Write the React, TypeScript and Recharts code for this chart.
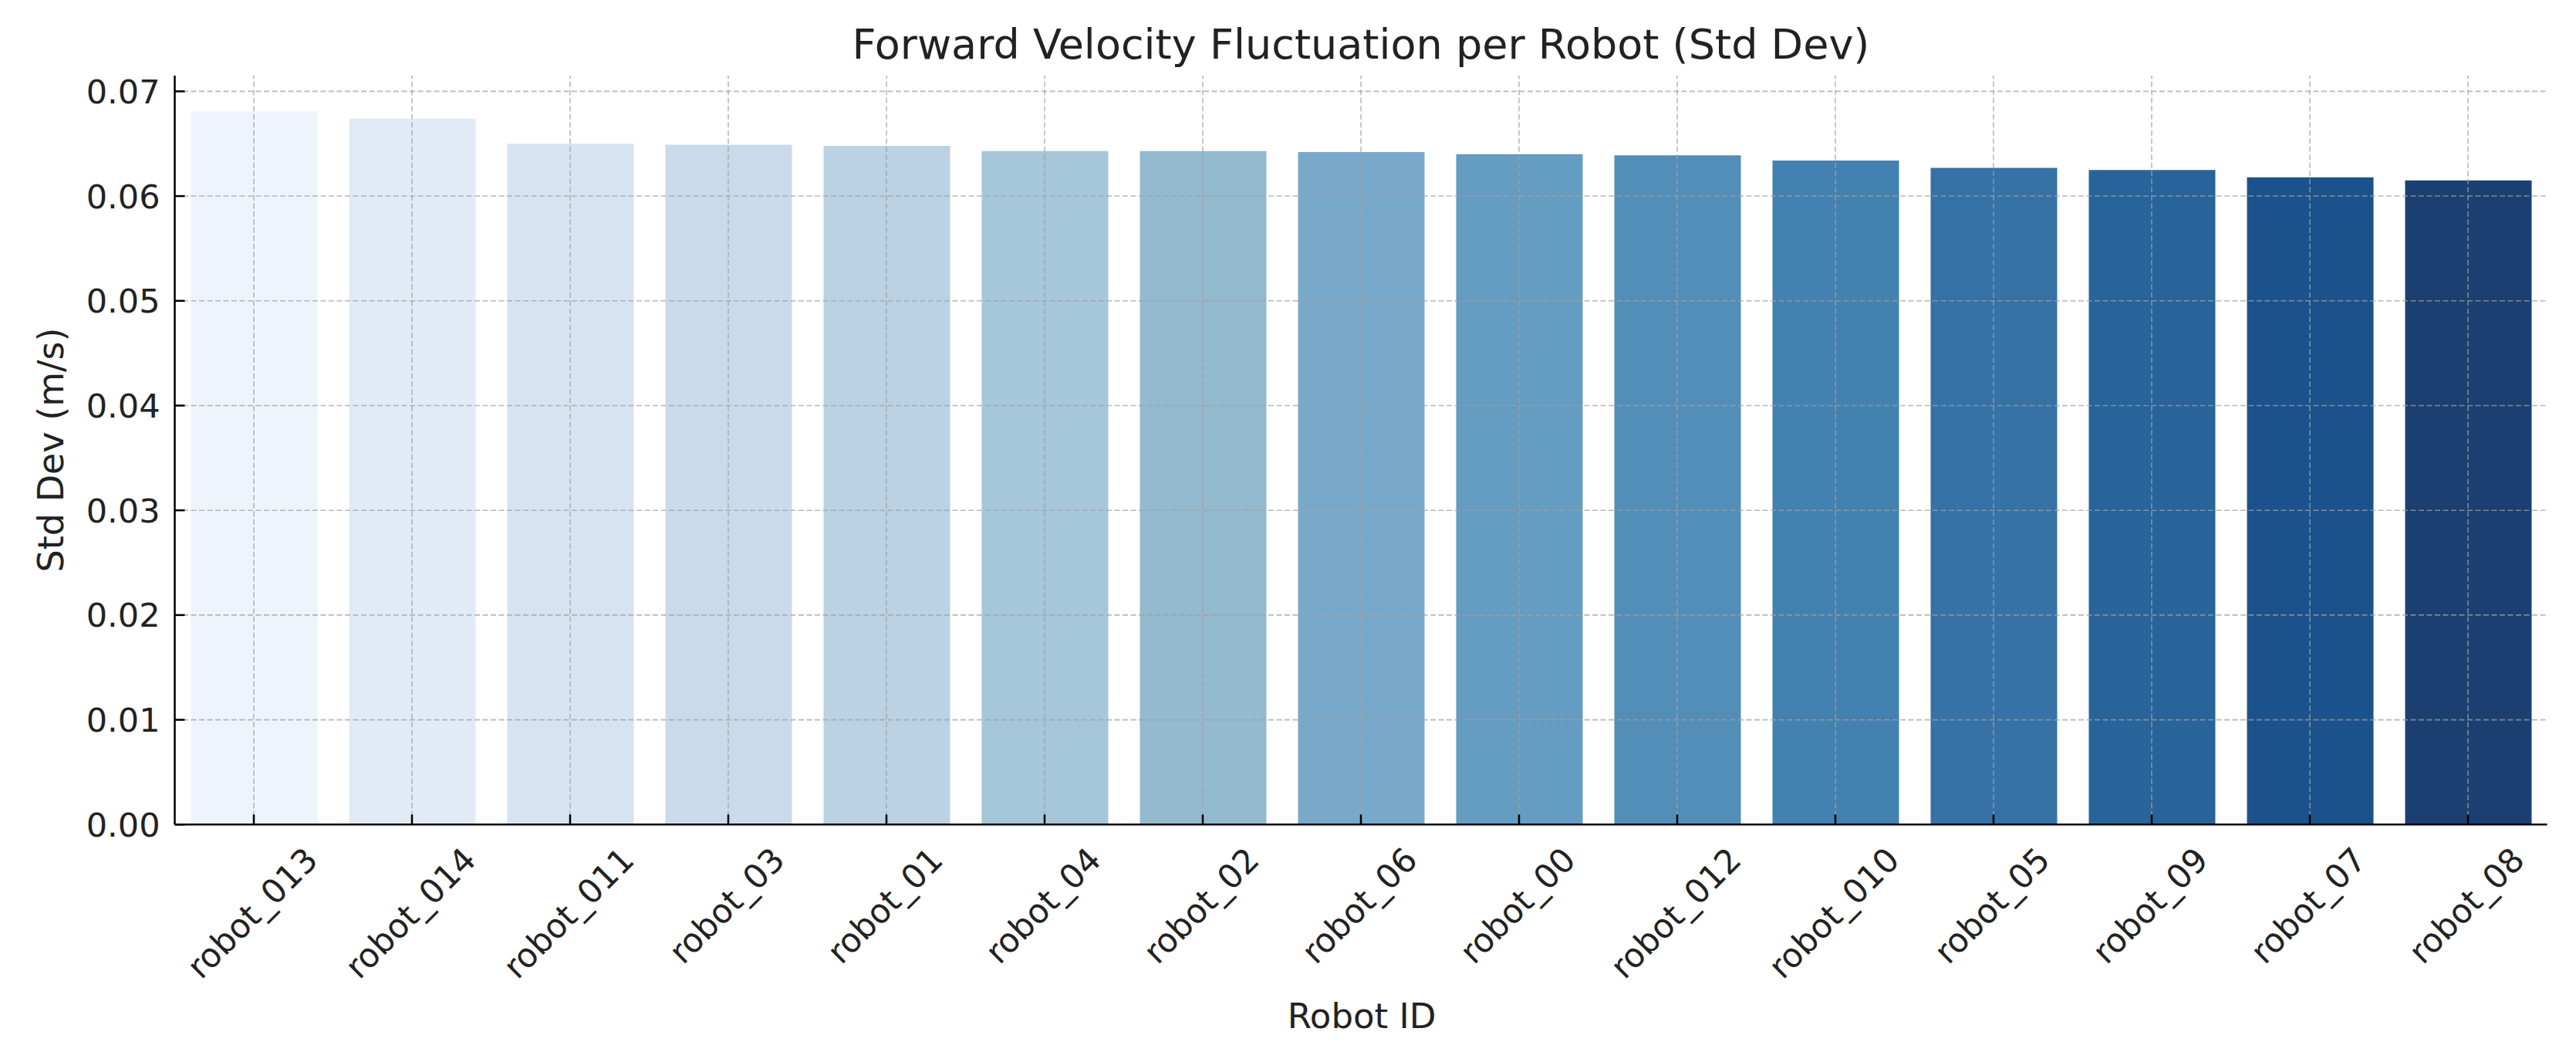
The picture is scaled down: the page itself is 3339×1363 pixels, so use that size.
import React from "react";
import { BarChart, Bar, XAxis, YAxis, Cell, ReferenceLine } from "recharts";

const robots = [
  "robot_013", "robot_014", "robot_011", "robot_03", "robot_01",
  "robot_04", "robot_02", "robot_06", "robot_00", "robot_012",
  "robot_010", "robot_05", "robot_09", "robot_07", "robot_08",
];
const stdDevs = [
  0.0681, 0.0674, 0.0650, 0.0649, 0.0648,
  0.0643, 0.0643, 0.0642, 0.0640, 0.0639,
  0.0634, 0.0627, 0.0625, 0.0618, 0.0615,
];
const barColors = [
  "#EEF4FC", "#E0EBF6", "#D6E3F0", "#C9DAEA", "#BAD2E3",
  "#A6C6D9", "#93BACF", "#79A9CA", "#649CC2", "#538EB8",
  "#4381B0", "#3672A6", "#28649A", "#1C528C", "#1B3F70",
];
const yTicks = [0, 0.01, 0.02, 0.03, 0.04, 0.05, 0.06, 0.07];

const title = "Forward Velocity Fluctuation per Robot (Std Dev)";
const xLabel = "Robot ID";
const yLabel = "Std Dev (m/s)";

const data = robots.map((r, i) => ({ robot: r, value: stdDevs[i] }));

const W = 3339;
const H = 1363;
const FONT = "'DejaVu Sans', sans-serif";
const TICK_FS = 43;
const TEXT = "#222222";
const GRID = "rgba(160,160,160,0.75)";

const charW: Record<string, number> = {
  r: 0.411, o: 0.612, b: 0.635, t: 0.392, _: 0.5,
};
const textWidth = (s: string, fs: number) =>
  s.split("").reduce((a, c) => a + (charW[c] ?? 0.636), 0) * fs;

const YTick = (props: any) => {
  const { x, y, payload } = props;
  return (
    <g>
      <line x1={x} x2={x + 13} y1={y} y2={y} stroke="#000" strokeWidth={2.5} />
      <text x={x - 19} y={y + TICK_FS * 0.36} textAnchor="end" fontSize={TICK_FS} fontFamily={FONT} fill={TEXT}>
        {Number(payload.value).toFixed(2)}
      </text>
    </g>
  );
};

const XTick = (props: any) => {
  const { x, y, payload } = props;
  const label = String(payload.value);
  const w = textWidth(label, TICK_FS);
  const inkH = (w + 0.96 * TICK_FS) / Math.SQRT2;
  const top = y + 25;
  const cx = x;
  const cy = top + inkH / 2;
  return (
    <g>
      <line x1={x} x2={x} y1={y} y2={y - 13} stroke="#000" strokeWidth={2.5} />
      <text
        x={cx}
        y={cy + 0.28 * TICK_FS}
        textAnchor="middle"
        fontSize={TICK_FS}
        fontFamily={FONT}
        fill={TEXT}
        transform={`rotate(-45, ${cx}, ${cy})`}
      >
        {label}
      </text>
    </g>
  );
};

export default function App() {
  return (
    <div style={{ position: "relative", width: W, height: H, background: "#fff" }}>
      <style>{"body{margin:0;}"}</style>
      <BarChart
        width={W}
        height={H}
        data={data}
        margin={{ top: 98, right: 37.5, left: 0, bottom: 94.7 }}
      >
        <Bar dataKey="value" barSize={164} isAnimationActive={false}>
          {data.map((d, i) => (
            <Cell key={d.robot} fill={barColors[i]} />
          ))}
        </Bar>
        {yTicks.map((t) => (
          <ReferenceLine key={"h" + t} y={t} stroke={GRID} strokeWidth={1.6} strokeDasharray="7 3.5" />
        ))}
        {robots.map((r) => (
          <ReferenceLine key={"v" + r} x={r} stroke={GRID} strokeWidth={1.6} strokeDasharray="7 3.5" />
        ))}
        <XAxis
          dataKey="robot"
          height={200}
          interval={0}
          tickSize={0}
          tickMargin={0}
          tickLine={false}
          axisLine={{ stroke: "#000", strokeWidth: 2.5 }}
          tick={<XTick />}
        />
        <YAxis
          width={226.5}
          domain={[0, 0.0715]}
          ticks={yTicks}
          interval={0}
          allowDataOverflow
          tickSize={0}
          tickMargin={0}
          tickLine={false}
          axisLine={{ stroke: "#000", strokeWidth: 2.5 }}
          tick={<YTick />}
        />
      </BarChart>
      <svg
        width={W}
        height={H}
        style={{ position: "absolute", left: 0, top: 0, pointerEvents: "none" }}
      >
        <text x={1764} y={76} textAnchor="middle" fontSize={54} fontFamily={FONT} fill={TEXT}>
          {title}
        </text>
        <text x={1765} y={1332} textAnchor="middle" fontSize={45} fontFamily={FONT} fill={TEXT}>
          {xLabel}
        </text>
        <text
          x={0}
          y={0}
          textAnchor="middle"
          fontSize={46}
          fontFamily={FONT}
          fill={TEXT}
          transform={`translate(82, 583) rotate(-90)`}
        >
          {yLabel}
        </text>
      </svg>
    </div>
  );
}
